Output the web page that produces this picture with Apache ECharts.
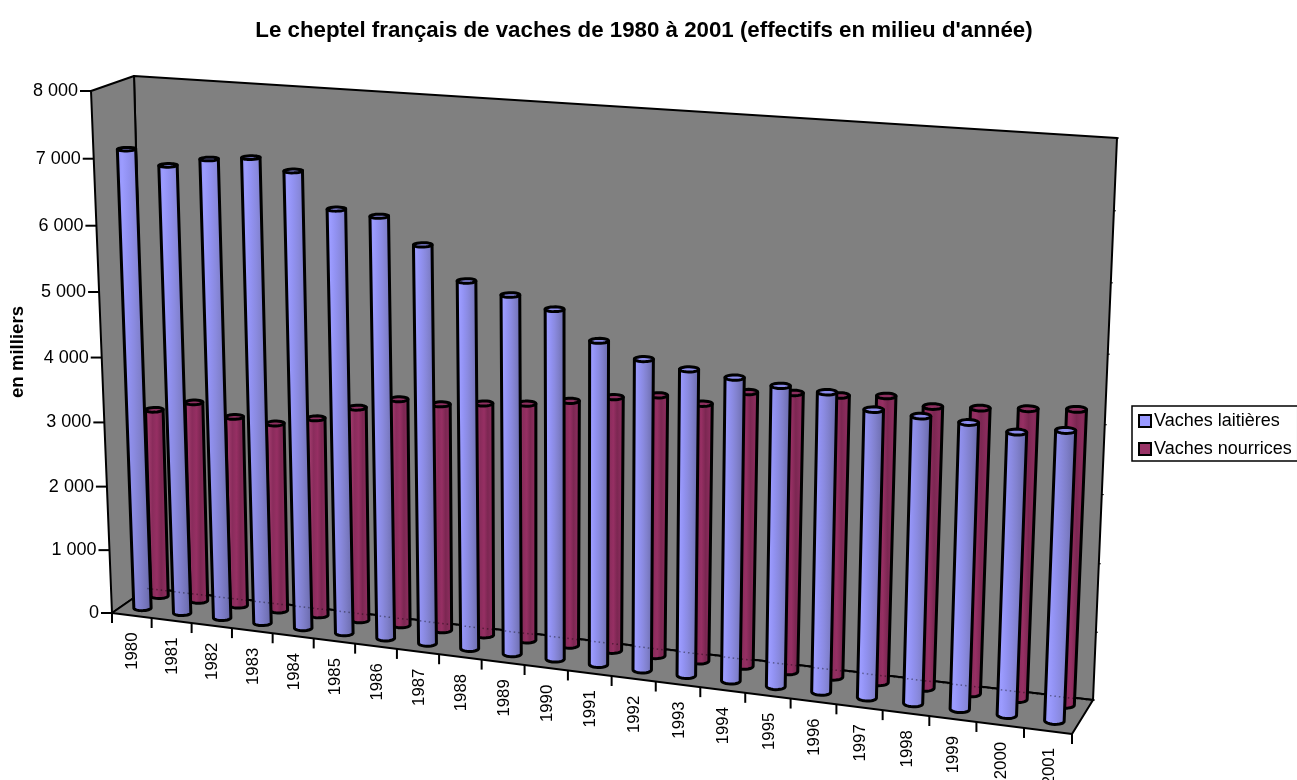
<!DOCTYPE html>
<html><head><meta charset="utf-8">
<style>html,body{margin:0;padding:0;background:#fff}#c{width:1297px;height:780px}</style>
<script src="https://cdn.jsdelivr.net/npm/echarts@6/dist/echarts.min.js"></script>
</head><body><div id="c"></div>
<script>
const years = ['1980','1981','1982','1983','1984','1985','1986','1987','1988','1989','1990','1991','1992','1993','1994','1995','1996','1997','1998','1999','2000','2001'];
const laitieres = [7091,6895,7035,7101,6951,6439,6384,6015,5540,5390,5238,4835,4629,4540,4482,4425,4396,4209,4181,4155,4084,4173];
const nourrices = [2960,3138,2974,2935,3078,3305,3495,3480,3555,3614,3718,3835,3923,3861,4094,4142,4167,4221,4130,4170,4224,4277];
const yTicks = [0,1000,2000,3000,4000,5000,6000,7000,8000];
const yTickLabels = ['0','1 000','2 000','3 000','4 000','5 000','6 000','7 000','8 000'];

const FONT = '"Liberation Sans", Arial, sans-serif';
function quadMap(a,b,c,d){ // a(0,0) b(1,0) c(1,1) d(0,1)
  const dx1=b[0]-c[0],dx2=d[0]-c[0],sx=a[0]-b[0]+c[0]-d[0];
  const dy1=b[1]-c[1],dy2=d[1]-c[1],sy=a[1]-b[1]+c[1]-d[1];
  const den=dx1*dy2-dx2*dy1;
  const g=(sx*dy2-dx2*sy)/den,h=(dx1*sy-sx*dy1)/den;
  const A=b[0]-a[0]+g*b[0],B=d[0]-a[0]+h*d[0],C=a[0];
  const D=b[1]-a[1]+g*b[1],E=d[1]-a[1]+h*d[1],F=a[1];
  return (u,v)=>{const w=g*u+h*v+1;return [(A*u+B*v+C)/w,(D*u+E*v+F)/w];};
}
const front = quadMap([112,613],[1072,734],[1095,160],[91,91]);
const back  = quadMap([148,588],[1093,700],[1117,138],[134,76]);
function P(u,v,d){const f=front(u,v),b=back(u,v);return [f[0]+(b[0]-f[0])*d,f[1]+(b[1]-f[1])*d];}
function uv(params,api,pt){
  const c=params.coordSys;
  return [(pt[0]-c.x)/c.width,(c.y+c.height-pt[1])/c.height];
}
const EDGE={stroke:'#000',lineWidth:2};
function walls(params,api){
  const poly=(pts,fill)=>({type:'polygon',shape:{points:pts},style:Object.assign({fill:fill,lineJoin:'round'},EDGE)});
  const kids=[
    poly([P(0,0,1),P(1,0,1),P(1,1,1),P(0,1,1)],'#808080'),
    poly([P(0,0,0),P(0,0,1),P(0,1,1),P(0,1,0)],'#808080'),
    poly([P(0,0,0),P(1,0,0),P(1,0,1),P(0,0,1)],'#808080')
  ];
  yTicks.forEach(t=>{
    const v=uv(params,api,api.coord([0,t]))[1];
    const q=P(1,v,1);
    kids.push({type:'line',shape:{x1:q[0],y1:q[1],x2:q[0]+2,y2:q[1]},style:{stroke:'#000',lineWidth:1}});
  });
  return {type:'group',children:kids};
}
function cylinder(depth,colors,capFill){
  return function(params,api){
    const i=api.value(0),val=api.value(1);
    const base=uv(params,api,api.coord([i,0]));
    const top=uv(params,api,api.coord([i,val]));
    const ru=api.size([1,0])[0]/params.coordSys.width*0.2, rd=0.1, N=24;
    const ring=v=>{const r=[];for(let k=0;k<N;k++){const t=k/N*Math.PI*2;r.push(P(base[0]+ru*Math.cos(t),v,depth+rd*Math.sin(t)));}return r;};
    const bot=ring(0),cap=ring(top[1]);
    let lo=0,hi=0;bot.forEach((p,k)=>{if(p[0]<bot[lo][0])lo=k;if(p[0]>bot[hi][0])hi=k;});
    let tl=0,tr=0;cap.forEach((p,k)=>{if(p[0]<cap[tl][0])tl=k;if(p[0]>cap[tr][0])tr=k;});
    const body=[cap[tl],cap[tr]];
    let k=hi,guard=0;
    const stepDir=(bot[(hi+1)%N][1]>bot[(hi+N-1)%N][1])?1:-1;
    while(k!==lo&&guard++<N){body.push(bot[k]);k=(k+stepDir+N)%N;}
    body.push(bot[lo]);
    const stops=colors.map((c,j)=>({offset:j/(colors.length-1),color:c}));
    return {type:'group',children:[
      {type:'polygon',shape:{points:body},style:{fill:{type:'linear',x:0,y:0,x2:1,y2:0,colorStops:stops},stroke:'#000',lineWidth:3,lineJoin:'round'}},
      {type:'polygon',shape:{points:cap},style:{fill:capFill,stroke:'#000',lineWidth:3,lineJoin:'round'}}
    ]};
  };
}
function backLineDots(params,api){
  const pts=[P(0,0,0.98),P(1,0,0.98)];
  return {type:'polyline',shape:{points:pts},style:{stroke:'rgba(0,0,0,0.4)',lineWidth:1.5,lineDash:[1.5,3],fill:null}};
}
function yAxisMarks(params,api){
  const n=api.value(0),val=api.value(1);
  const v=uv(params,api,api.coord([0,val]))[1];
  const q=P(0,v,0);
  return {type:'group',children:[
    {type:'line',shape:{x1:q[0]-11,y1:q[1],x2:q[0],y2:q[1]},style:{stroke:'#000',lineWidth:2}},
    {type:'text',style:{text:yTickLabels[n],x:q[0]-13,y:q[1],align:'right',verticalAlign:'middle',font:'18px '+FONT,fill:'#000'}}
  ]};
}
function xAxisMarks(params,api){
  const i=api.value(0);
  const u=uv(params,api,api.coord([i,0]))[0];
  const band=api.size([1,0])[0]/params.coordSys.width;
  const kids=[];
  const tick=uu=>{const q=P(uu,0,0);kids.push({type:'line',shape:{x1:q[0],y1:q[1],x2:q[0],y2:q[1]+10},style:{stroke:'#000',lineWidth:2}});};
  tick(u-band/2);
  if(i===years.length-1)tick(u+band/2);
  const q=P(u,0,0);
  kids.push({type:'text',x:q[0]+1,y:q[1]+17,rotation:Math.PI/2,style:{text:years[i],x:0,y:0,align:'right',verticalAlign:'middle',font:'16.8px '+FONT,fill:'#000'}});
  return {type:'group',children:kids};
}
const custom=(name,z,data,fn,color)=>({type:'custom',name,z,data,renderItem:fn,silent:true,animation:false,clip:false,encode:{x:0,y:1},
  itemStyle:color?{color:color,borderColor:'#000',borderWidth:2}:undefined});
const chart=echarts.init(document.getElementById('c'),null,{renderer:'canvas'});
chart.setOption({
  animation:false,
  backgroundColor:'#fff',
  title:{text:"Le cheptel français de vaches de 1980 à 2001 (effectifs en milieu d'année)",left:639,textAlign:'center',top:15,textStyle:{fontFamily:FONT,fontWeight:'bold',fontSize:22.3,color:'#000'}},
  legend:{data:['Vaches laitières','Vaches nourrices'],left:1132,top:406,orient:'vertical',selectedMode:false,icon:'rect',itemWidth:12,itemHeight:12,itemGap:10,padding:[6,6,3,6],borderColor:'#000',borderWidth:1.5,backgroundColor:'#fff',textStyle:{fontFamily:FONT,fontSize:18,color:'#000',padding:[0,0,0,-2]}},
  grid:{left:112,top:91,width:960,height:522,containLabel:false},
  xAxis:{type:'category',data:years,show:false,boundaryGap:true},
  yAxis:{type:'value',min:0,max:8000,interval:1000,name:'en milliers',nameLocation:'middle',nameRotate:90,nameGap:97,nameTextStyle:{fontFamily:FONT,fontWeight:'bold',fontSize:18.6,color:'#000'},axisLine:{show:false},axisTick:{show:false},axisLabel:{show:false},splitLine:{show:false}},
  series:[
    custom('walls',1,[[0,0]],walls),
    custom('Vaches nourrices',2,nourrices.map((v,i)=>[i,v]),cylinder(0.78,['#8f2f60','#a03a6c','#8a2c5c','#962f63','#7c2752','#8a2c5c','#702248'],'#8f2f60'),'#993366'),
    custom('Vaches laitières',3,laitieres.map((v,i)=>[i,v]),cylinder(0.3,['#8f8ff0','#9c9cff','#9292f2','#8a8ae0','#8080cc','#7373b8','#5f5f9e'],'#8c8cec'),'#9999FF'),
    custom('dots',4,[[0,0]],backLineDots),
    custom('yAxisMarks',5,yTicks.map((t,n)=>[n,t]),yAxisMarks),
    custom('xAxisMarks',5,years.map((y,i)=>[i,0]),xAxisMarks)
  ]
});
</script></body></html>
